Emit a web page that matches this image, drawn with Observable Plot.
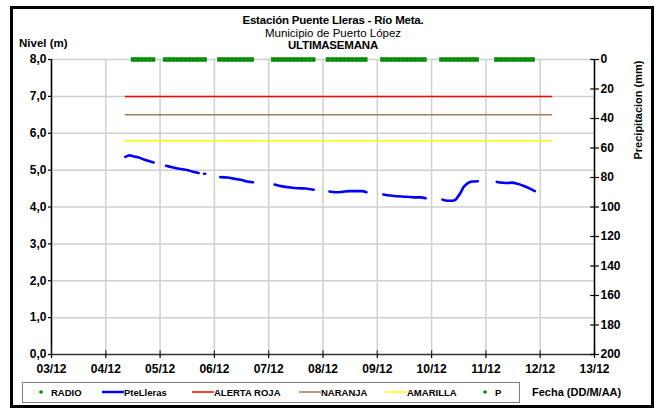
<!DOCTYPE html>
<html>
<head>
<meta charset="utf-8">
<script src="https://cdn.jsdelivr.net/npm/d3@7"></script>
<script src="https://cdn.jsdelivr.net/npm/@observablehq/plot@0.6"></script>
<style>
  html, body { margin: 0; padding: 0; background: #fff; }
  #wrap { position: relative; width: 655px; height: 413px; overflow: hidden; font-family: "Liberation Sans", Arial, sans-serif; }
  #frame { position: absolute; left: 10px; top: 6px; width: 638px; height: 396px; border: 3px solid #000; }
  .t { position: absolute; white-space: nowrap; color: #000; }
  .b { font-weight: bold; }
  #wrap svg { position: absolute; left: 0; top: 0; overflow: visible; }
  #legend { position: absolute; left: 22px; top: 382px; width: 496px; height: 19px; border: 1px solid #7f7f7f; background: #fff; }
  .li { position: absolute; top: 3px; font-size: 9.5px; font-weight: bold; white-space: nowrap; }
</style>
</head>
<body>
<div id="wrap">
  <div id="frame"></div>
  <div id="plots"></div>
  <div class="t b" style="left:0;width:666px;text-align:center;top:14px;font-size:11.5px;letter-spacing:-0.2px">Estación Puente Lleras - Río Meta.</div>
  <div class="t" style="left:0;width:666px;text-align:center;top:27px;font-size:11.5px">Municipio de Puerto López</div>
  <div class="t b" style="left:0;width:666px;text-align:center;top:39px;font-size:11.5px;letter-spacing:-0.2px">ULTIMASEMANA</div>
  <div class="t b" style="left:19px;top:37px;font-size:11.5px">Nivel (m)</div>
  <div class="t b" style="left:638px;top:110px;font-size:11px;transform:translate(-50%,-50%) rotate(-90deg);transform-origin:center;">Precipitacion (mm)</div>
  <div class="t b" style="left:532px;top:386px;font-size:11px">Fecha (DD/M/AA)</div>
  <div id="legend"></div>
</div>
<script>
// ---- Data ----
const xTickLabels = ["03/12","04/12","05/12","06/12","07/12","08/12","09/12","10/12","11/12","12/12","13/12"];
const levelTicks = [0,1,2,3,4,5,6,7,8];
const precipTicks = [0,20,40,60,80,100,120,140,160,180,200];

// Water level (days since 03/12 00:00), null = no data
const levelTime = [
  1.36,1.44,1.52,1.61,1.70,1.79,1.88, null,
  2.11,2.22,2.38,2.53,2.65,2.71, null,
  2.81,2.83, null,
  3.11,3.24,3.36,3.48,3.60,3.71, null,
  4.11,4.25,4.40,4.55,4.68,4.83, null,
  5.12,5.23,5.35,5.48,5.60,5.72,5.80, null,
  6.11,6.24,6.37,6.49,6.61,6.70,6.80,6.89, null,
  7.20,7.29,7.38,7.44,7.48,7.53,7.59,7.67,7.75,7.85, null,
  8.20,8.30,8.39,8.48,8.58,8.70,8.81,8.90
];
const levelValue = [
  5.36,5.40,5.37,5.34,5.29,5.25,5.21, null,
  5.12,5.08,5.03,4.99,4.94,4.92, null,
  4.90,4.90, null,
  4.81,4.80,4.77,4.74,4.69,4.67, null,
  4.61,4.56,4.53,4.51,4.50,4.47, null,
  4.42,4.40,4.41,4.43,4.43,4.43,4.40, null,
  4.34,4.31,4.29,4.28,4.27,4.26,4.26,4.24, null,
  4.20,4.17,4.17,4.20,4.27,4.38,4.54,4.65,4.69,4.70, null,
  4.68,4.66,4.65,4.66,4.63,4.57,4.50,4.43
];

// Alert thresholds
const thresholdNames = ["ALERTA ROJA","NARANJA","AMARILLA"];
const thresholdValues = [7.0, 6.5, 5.8];
const thresholdColors = ["#ff0000","#a67c5b","#ffff00"];
const thresholdStart = 1.36;
const thresholdEnd = 9.23;

// Precipitation P (mm) readings: periods with value 0
const pStart = [1.47,2.06,3.06,4.05,5.06,6.06,7.15,8.16];
const pEnd   = [1.92,2.87,3.74,4.87,5.83,6.92,7.88,8.91];
const pValue = [0,0,0,0,0,0,0,0];

// ---- Build ----
const W = 655, H = 413;
const M = {marginLeft: 51, marginRight: 61, marginTop: 59, marginBottom: 59};
const dayTicks = d3.range(xTickLabels.length);
const levelData = levelTime.map((t, i) => ({t, v: levelValue[i]}));
const thresholds = thresholdNames.map((n, i) => ({name: n, value: thresholdValues[i], color: thresholdColors[i]}));
const pData = pStart.map((s, i) => ({s, e: pEnd[i], p: pValue[i]}));
const font = {fontSize: 12, fontWeight: "bold", fontFamily: "Liberation Sans, Arial, sans-serif"};

const plot1 = Plot.plot({
  width: W, height: H, ...M,
  style: {background: "transparent", color: "#000", ...font},
  x: {domain: [0, 10]},
  y: {domain: [0, 8]},
  marks: [
    Plot.gridX(dayTicks, {stroke: "#d0d0d0", strokeOpacity: 1, strokeWidth: 1.5}),
    Plot.gridY(levelTicks.slice(1), {stroke: "#d0d0d0", strokeOpacity: 1, strokeWidth: 1.5}),
    Plot.ruleY(thresholds, {y: "value", x1: () => thresholdStart, x2: () => thresholdEnd, stroke: "color", strokeWidth: 1.5}),
    Plot.line(levelData, {x: "t", y: "v", stroke: "#0000ff", strokeWidth: 2.6, curve: "monotone-x"}),
    Plot.ruleX([0], {stroke: "#000", strokeWidth: 1.5}),
    Plot.ruleY([0], {stroke: "#333", strokeWidth: 1.5}),
    Plot.ruleX(dayTicks, {y1: 0, y2: 0.1, stroke: "#333", strokeWidth: 1.2}),
    Plot.axisY(levelTicks, {anchor: "left", tickSize: 3, tickPadding: 2, tickFormat: d => d.toFixed(1).replace(".", ","), label: null, ...font, strokeWidth: 1.2}),
    Plot.axisX(dayTicks, {anchor: "bottom", tickSize: 4, tickPadding: 6, tickFormat: i => xTickLabels[i], label: null, ...font, strokeWidth: 1.2})
  ]
});

const plot2 = Plot.plot({
  width: W, height: H, ...M,
  style: {background: "transparent", color: "#000", ...font},
  x: {domain: [0, 10], axis: null},
  y: {domain: [0, 200], reverse: true, axis: null},
  marks: [
    Plot.ruleY(pData, {y: "p", x1: "s", x2: "e", stroke: "#008a00", strokeWidth: 4.5}),
    Plot.ruleY(pData, {y: "p", x1: "s", x2: "e", stroke: "#2aa52a", strokeWidth: 1, strokeDasharray: "1.5,2.5"}),
    Plot.ruleX([10], {stroke: "#000", strokeWidth: 1.5}),
    Plot.ruleY(precipTicks, {x1: 9.93, x2: 10, stroke: "#000", strokeWidth: 1.2}),
    Plot.axisY(precipTicks, {anchor: "right", tickSize: 4, tickPadding: 2, label: null, ...font, strokeWidth: 1.2})
  ]
});

const holder = document.getElementById("plots");
holder.appendChild(plot1);
holder.appendChild(plot2);

// ---- Legend ----
const legend = document.getElementById("legend");
const legendItems = [
  {label: "RADIO", kind: "dot", color: "#008a00", x: 14},
  {label: "PteLleras", kind: "line", color: "#0000ff", x: 79},
  {label: "ALERTA ROJA", kind: "line", color: thresholdColors[0], x: 169},
  {label: "NARANJA", kind: "line", color: thresholdColors[1], x: 276},
  {label: "AMARILLA", kind: "line", color: thresholdColors[2], x: 362},
  {label: "P", kind: "dot", color: "#008a00", x: 458}
];
for (const it of legendItems) {
  const d = document.createElement("div");
  d.className = "li";
  d.style.left = it.x + "px";
  const sw = it.kind === "line"
    ? `<svg width="22" height="8" style="position:static;vertical-align:middle"><line x1="0" y1="4" x2="22" y2="4" stroke="${it.color}" stroke-width="${it.color === '#0000ff' ? 2.5 : 1.5}"/></svg>`
    : `<svg width="14" height="8" style="position:static;vertical-align:middle"><circle cx="4" cy="4" r="1.8" fill="${it.color}"/></svg>`;
  d.innerHTML = sw + `<span style="vertical-align:middle">${it.label}</span>`;
  legend.appendChild(d);
}
</script>
</body>
</html>
